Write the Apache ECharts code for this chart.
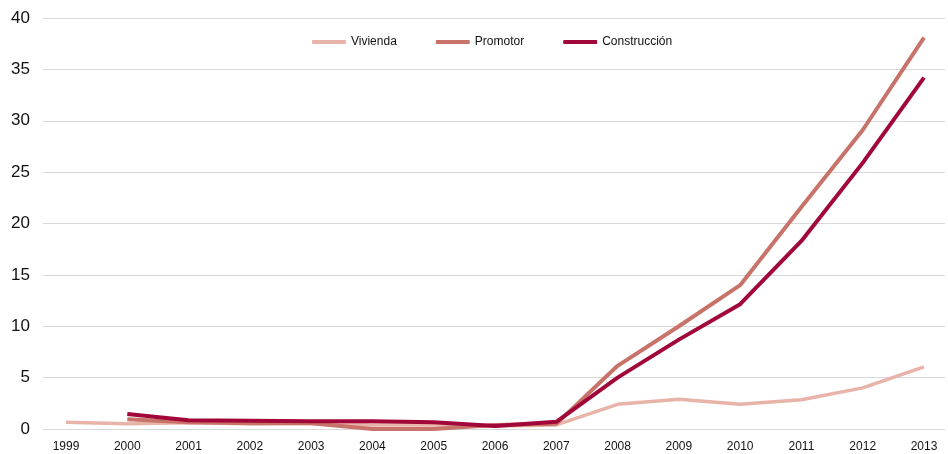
<!DOCTYPE html>
<html>
<head>
<meta charset="utf-8">
<script src="https://cdn.jsdelivr.net/npm/echarts@6/dist/echarts.min.js"></script>
<style>
  html, body { margin: 0; padding: 0; background: #fff; }
  #chart { width: 948px; height: 454px; }
</style>
</head>
<body>
<div id="chart"></div>
<script>
// datos
const years = ['1999', '2000', '2001', '2002', '2003', '2004', '2005', '2006',
  '2007', '2008', '2009', '2010', '2011', '2012', '2013']
const vivienda = [0.65, 0.5, 0.6, 0.5, 0.55, 0.4, 0.4, 0.3, 0.4, 2.4, 2.9, 2.4, 2.85, 4.0, 6.05]
const promotor = [null, 0.95, 0.65, 0.55, 0.55, 0.0, 0.0, 0.4, 0.5, 6.15, 10.0, 14.0, 21.6, 29.1, 38.1]
const construccion = [null, 1.45, 0.85, 0.8, 0.75, 0.75, 0.65, 0.3, 0.7, 5.0, 8.7, 12.15, 18.3, 25.9, 34.2]
const yTicks = { min: 0, max: 40, interval: 5 }

const colors = {
  vivienda: '#E8B3A8',
  promotor: '#C8736A',
  construccion: '#A2073A'
}

const font = 'Liberation Sans, Arial, sans-serif'

const mkLine = (name, data, color, width) => ({
  name: name,
  type: 'line',
  data: data,
  xAxisIndex: 1,
  yAxisIndex: 1,
  symbol: 'none',
  smooth: false,
  connectNulls: false,
  lineStyle: { color: color, width: width },
  itemStyle: { color: color }
})

const option = {
  animation: false,
  // grid 0: solo etiquetas y líneas de cuadrícula, grid 1: las series
  grid: [
    { left: 43, right: 3, top: 18, bottom: 25 },
    { left: 66, right: 24, top: 18, bottom: 25 }
  ],
  legend: {
    top: 31,
    left: 307,
    itemWidth: 34,
    itemHeight: 4,
    itemGap: 39,
    icon: 'roundRect',
    textStyle: { fontFamily: font, fontSize: 12, color: '#111' },
    data: ['Vivienda', 'Promotor', 'Construcción']
  },
  xAxis: [
    { type: 'category', gridIndex: 0, show: false, data: years },
    {
      type: 'category',
      gridIndex: 1,
      data: years,
      boundaryGap: false,
      axisLine: { show: false },
      axisTick: { show: false },
      axisLabel: { fontFamily: font, fontSize: 12, color: '#111', margin: 12 }
    }
  ],
  yAxis: [
    {
      type: 'value',
      gridIndex: 0,
      min: yTicks.min,
      max: yTicks.max,
      interval: yTicks.interval,
      axisLine: { show: false },
      axisTick: { show: false },
      axisLabel: { fontFamily: font, fontSize: 17, color: '#111', margin: 13 },
      splitLine: { lineStyle: { color: '#d9d9d9', width: 1 } }
    },
    {
      type: 'value',
      gridIndex: 1,
      min: yTicks.min,
      max: yTicks.max,
      interval: yTicks.interval,
      show: false,
      splitLine: { show: false }
    }
  ],
  series: [
    mkLine('Vivienda', vivienda, colors.vivienda, 3.5),
    mkLine('Promotor', promotor, colors.promotor, 4),
    mkLine('Construcción', construccion, colors.construccion, 4)
  ]
}

const chart = echarts.init(document.getElementById('chart'))
chart.setOption(option)
</script>
</body>
</html>
